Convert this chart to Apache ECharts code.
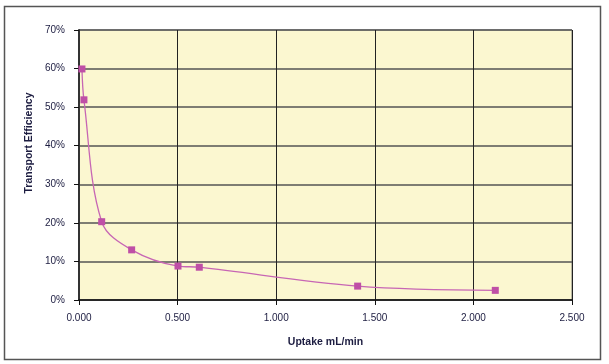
<!DOCTYPE html>
<html><head><meta charset="utf-8">
<script src="https://cdn.jsdelivr.net/npm/echarts@6/dist/echarts.min.js"></script>
<style>html,body{margin:0;padding:0;background:#fff}#c{width:609px;height:364px}</style>
</head><body><div id="c"></div>
<script>
const uptake = [0.015, 0.025, 0.115, 0.267, 0.502, 0.610, 1.413, 2.111];
const efficiency = [59.9, 51.9, 20.3, 13.0, 8.8, 8.5, 3.6, 2.5];
const xTitle = 'Uptake mL/min';
const yTitle = 'Transport Efficiency';

const chart = echarts.init(document.getElementById('c'));
const fnt = '"Liberation Sans Narrow", "Liberation Sans", sans-serif';
const txtCol = '#1c1c40';
chart.setOption({
  animation: false,
  graphic: [
    {type:'rect', shape:{x:4.5,y:6.5,width:596,height:353}, style:{fill:'none', stroke:'#555', lineWidth:1.5}, z:-1},
    {type:'text', x:29, y:143, rotation:Math.PI/2, style:{text:yTitle, fill:txtCol, font:'bold 10.5px ' + fnt, align:'center', verticalAlign:'middle'}}
  ],
  grid: {left:79, right:37, top:30, bottom:64, show:true, backgroundColor:'#fbf7d0', borderColor:'#777', borderWidth:1},
  xAxis: {type:'value', min:0, max:2.5, interval:0.5,
    name:xTitle, nameLocation:'middle', nameGap:37,
    nameTextStyle:{fontFamily:fnt, fontWeight:'bold', fontSize:10.5, color:txtCol},
    axisLine:{show:true, onZero:false, lineStyle:{color:'#111', width:1.5}},
    axisTick:{show:true, length:5, lineStyle:{color:'#111'}},
    axisLabel:{formatter:v=>v.toFixed(3), fontFamily:fnt, fontSize:10, color:txtCol, margin:13},
    splitLine:{show:true, lineStyle:{color:'#222', width:1}}},
  yAxis: {type:'value', min:0, max:70, interval:10,
    axisLine:{show:true, lineStyle:{color:'#333', width:2}},
    axisTick:{show:true, length:5, lineStyle:{color:'#111'}},
    axisLabel:{formatter:'{value}%', fontFamily:fnt, fontSize:10, color:txtCol, margin:14},
    splitLine:{show:true, lineStyle:{color:'#555', width:1.5}}},
  series: [{type:'line', data: uptake.map((x,i)=>[x, efficiency[i]]), smooth:0.35,
    symbol:'rect', symbolSize:7, itemStyle:{color:'#bf4fa6'},
    lineStyle:{color:'#c766b4', width:1.3}}]
});
</script></body></html>
